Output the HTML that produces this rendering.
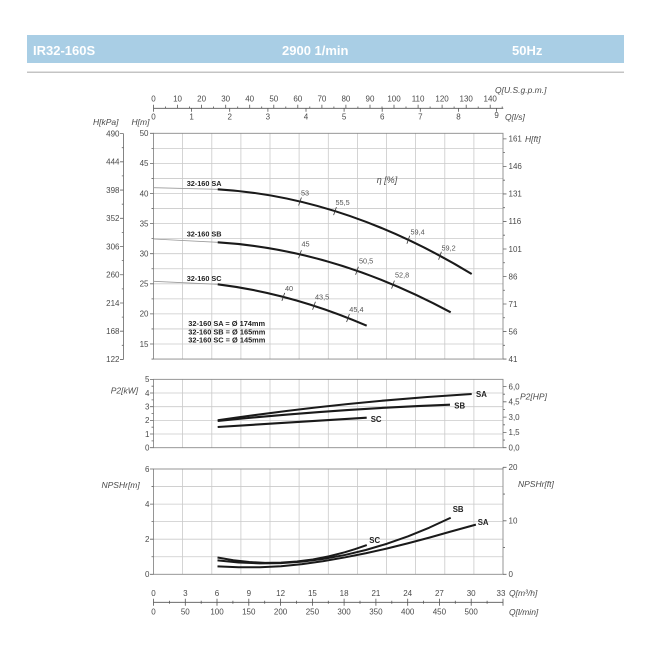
<!DOCTYPE html>
<html><head><meta charset="utf-8"><style>
html,body{margin:0;padding:0;background:#fff;}
svg{display:block;}
text{font-family:"Liberation Sans",Arial,sans-serif;}
.t{font-size:8px;fill:#4a4a4a;}
.i{font-size:8.5px;fill:#4a4a4a;font-style:italic;}
.e{font-size:7.3px;fill:#555;}
.b{font-size:7.3px;fill:#222;font-weight:bold;}
.h{font-size:13px;fill:#fff;font-weight:bold;}
</style></head><body>
<svg width="650" height="650" viewBox="0 0 650 650" xmlns="http://www.w3.org/2000/svg">
<rect x="27" y="35" width="597" height="28" fill="#a9cee5"/>
<text class="h" x="33" y="55">IR32-160S</text>
<text class="h" x="282" y="55">2900 1/min</text>
<text class="h" x="512" y="55">50Hz</text>
<line x1="27" y1="72.3" x2="624" y2="72.3" stroke="#c4c4c4" stroke-width="1.5"/>

<!-- Top axis -->
<text class="i" x="495" y="93">Q[U.S.g.p.m.]</text>
<line x1="153.5" y1="108.3" x2="503.3" y2="108.3" stroke="#555" stroke-width="0.8"/>
<g stroke="#555" stroke-width="0.8">
<path d="M153.5 104.8V108.3M177.55 104.8V108.3M201.6 104.8V108.3M225.7 104.8V108.3M249.7 104.8V108.3M273.8 104.8V108.3M297.8 104.8V108.3M321.9 104.8V108.3M345.9 104.8V108.3M370 104.8V108.3M394 104.8V108.3M418.1 104.8V108.3M442.1 104.8V108.3M466.2 104.8V108.3M490.2 104.8V108.3"/>
<path d="M165.5 106.5V108.3M189.6 106.5V108.3M213.6 106.5V108.3M237.7 106.5V108.3M261.7 106.5V108.3M285.8 106.5V108.3M309.8 106.5V108.3M333.9 106.5V108.3M357.9 106.5V108.3M382 106.5V108.3M406 106.5V108.3M430.1 106.5V108.3M454.1 106.5V108.3M478.2 106.5V108.3M502.2 106.5V108.3"/>
<path d="M153.5 108.3V111.8M191.6 108.3V111.8M229.7 108.3V111.8M267.9 108.3V111.8M306 108.3V111.8M344.1 108.3V111.8M382.2 108.3V111.8M420.3 108.3V111.8M458.5 108.3V111.8M496.6 108.3V111.8"/>
</g>
<g class="t" text-anchor="middle">
<text x="153.5" y="101.5">0</text><text x="177.55" y="101.5">10</text><text x="201.6" y="101.5">20</text><text x="225.7" y="101.5">30</text><text x="249.7" y="101.5">40</text><text x="273.8" y="101.5">50</text><text x="297.8" y="101.5">60</text><text x="321.9" y="101.5">70</text><text x="345.9" y="101.5">80</text><text x="370" y="101.5">90</text><text x="394" y="101.5">100</text><text x="418.1" y="101.5">110</text><text x="442.1" y="101.5">120</text><text x="466.2" y="101.5">130</text><text x="490.2" y="101.5">140</text>
<text x="153.5" y="119.5">0</text><text x="191.6" y="119.5">1</text><text x="229.7" y="119.5">2</text><text x="267.9" y="119.5">3</text><text x="306" y="119.5">4</text><text x="344.1" y="119.5">5</text><text x="382.2" y="119.5">6</text><text x="420.3" y="119.5">7</text><text x="458.5" y="119.5">8</text><text x="496.6" y="118">9</text>
</g>
<text class="i" x="505" y="120">Q[l/s]</text>

<!-- Main chart -->
<text class="i" x="93" y="125">H[kPa]</text>
<text class="i" x="131.5" y="125">H[m]</text>
<g stroke="#cacaca" stroke-width="0.8" fill="none">
<path d="M182.6 133.3V359.05M211.8 133.3V359.05M240.9 133.3V359.05M270 133.3V359.05M299.1 133.3V359.05M328.3 133.3V359.05M357.4 133.3V359.05M386.5 133.3V359.05M415.6 133.3V359.05M444.8 133.3V359.05M473.9 133.3V359.05"/>
<path d="M153.5 148.35H503M153.5 163.4H503M153.5 178.45H503M153.5 193.5H503M153.5 208.55H503M153.5 223.6H503M153.5 238.65H503M153.5 253.7H503M153.5 268.75H503M153.5 283.8H503M153.5 298.85H503M153.5 313.9H503M153.5 328.95H503M153.5 344H503"/>
</g>
<rect x="153.5" y="133.3" width="349.5" height="225.75" fill="none" stroke="#8a8a8a" stroke-width="0.9"/>
<g stroke="#666" stroke-width="0.8">
<path d="M123.5 133.6V359.43"/>
<path d="M120 133.6H123.5M120 161.83H123.5M120 190.06H123.5M120 218.29H123.5M120 246.52H123.5M120 274.75H123.5M120 302.98H123.5M120 331.21H123.5M120 359.43H123.5"/>
<path d="M121.8 147.7H123.5M121.8 175.9H123.5M121.8 204.2H123.5M121.8 232.4H123.5M121.8 260.6H123.5M121.8 288.9H123.5M121.8 317.1H123.5M121.8 345.3H123.5"/>
<path d="M150 133.3H153.5M150 163.4H153.5M150 193.5H153.5M150 223.6H153.5M150 253.7H153.5M150 283.8H153.5M150 313.9H153.5M150 344H153.5M151.5 148.35H153.5M151.5 178.45H153.5M151.5 208.55H153.5M151.5 238.65H153.5M151.5 268.75H153.5M151.5 298.85H153.5M151.5 328.95H153.5M151.5 359.05H153.5"/>
<path d="M503 138.88H506.5M503 166.4H506.5M503 193.93H506.5M503 221.45H506.5M503 248.97H506.5M503 276.5H506.5M503 304.02H506.5M503 331.54H506.5M503 359.07H506.5"/>
<path d="M503 152.64H505M503 180.17H505M503 207.69H505M503 235.21H505M503 262.74H505M503 290.26H505M503 317.78H505M503 345.31H505"/>
</g>
<g class="t" text-anchor="end">
<text x="119.5" y="136.4">490</text><text x="119.5" y="164.6">444</text><text x="119.5" y="192.9">398</text><text x="119.5" y="221.1">352</text><text x="119.5" y="249.3">306</text><text x="119.5" y="277.6">260</text><text x="119.5" y="305.8">214</text><text x="119.5" y="334">168</text><text x="119.5" y="362.2">122</text>
<text x="148.5" y="136.1">50</text><text x="148.5" y="166.2">45</text><text x="148.5" y="196.3">40</text><text x="148.5" y="226.4">35</text><text x="148.5" y="256.5">30</text><text x="148.5" y="286.6">25</text><text x="148.5" y="316.7">20</text><text x="148.5" y="346.8">15</text>
</g>
<g class="t">
<text x="508.5" y="141.7">161</text><text x="508.5" y="169.2">146</text><text x="508.5" y="196.7">131</text><text x="508.5" y="224.2">116</text><text x="508.5" y="251.8">101</text><text x="508.5" y="279.3">86</text><text x="508.5" y="306.8">71</text><text x="508.5" y="334.3">56</text><text x="508.5" y="361.9">41</text>
</g>
<text class="i" x="525" y="142">H[ft]</text>

<!-- gray extensions -->
<g stroke="#9a9a9a" stroke-width="0.8" fill="none">
<path d="M153.5 187.7L217.7 189.3"/>
<path d="M153.5 239L217.7 242.3"/>
<path d="M153.5 281.3L217.7 284.3"/>
</g>
<!-- H curves -->
<g stroke="#1a1a1a" stroke-width="2.1" fill="none" stroke-linecap="butt">
<path d="M217.7 189.3Q344.7 196.84 471.7 274"/>
<path d="M217.7 242.3Q334.2 249.5 450.7 312.3"/>
<path d="M217.7 284.3Q292.2 293.5 366.7 325.7"/>
</g>
<!-- efficiency ticks -->
<g stroke="#333" stroke-width="0.8">
<path d="M298.6 205.5L301.4 197.5M333.6 215.1L336.4 207.1M406.9 243.8L409.7 235.8M438.6 259.8L441.4 251.8"/>
<path d="M298.6 258.3L301.4 250.3M355.6 274.8L358.4 266.8M391.6 288.6L394.4 280.6"/>
<path d="M281.9 300.9L284.7 292.9M312.6 309.8L315.4 301.8M346.6 322L349.4 314"/>
</g>
<g class="e">
<text x="301" y="195.5">53</text><text x="335.5" y="205">55,5</text><text x="410.5" y="234.7">59,4</text><text x="441.5" y="250.4">59,2</text>
<text x="301.5" y="246.7">45</text><text x="359" y="263.4">50,5</text><text x="395" y="277.7">52,8</text>
<text x="285" y="291">40</text><text x="315" y="299.4">43,5</text><text x="349.3" y="312">45,4</text>
</g>
<text class="i" x="376.7" y="183" style="font-size:9px">η [%]</text>
<g class="b">
<text x="186.7" y="186">32-160 SA</text>
<text x="186.7" y="236.7">32-160 SB</text>
<text x="186.7" y="281">32-160 SC</text>
</g>
<g class="b" style="font-size:7.4px">
<text x="188.3" y="326">32-160 SA = Ø 174mm</text>
<text x="188.3" y="334.4">32-160 SB = Ø 165mm</text>
<text x="188.3" y="342.7">32-160 SC = Ø 145mm</text>
</g>

<!-- P2 chart -->
<g stroke="#cacaca" stroke-width="0.8" fill="none">
<path d="M182.6 379.35V447.7M211.8 379.35V447.7M240.9 379.35V447.7M270 379.35V447.7M299.1 379.35V447.7M328.3 379.35V447.7M357.4 379.35V447.7M386.5 379.35V447.7M415.6 379.35V447.7M444.8 379.35V447.7M473.9 379.35V447.7"/>
<path d="M153.5 393H503M153.5 406.7H503M153.5 420.4H503M153.5 434H503"/>
</g>
<rect x="153.5" y="379.35" width="349.5" height="68.35" fill="none" stroke="#8a8a8a" stroke-width="0.9"/>
<g stroke="#666" stroke-width="0.8">
<path d="M150 379.35H153.5M150 393H153.5M150 406.7H153.5M150 420.4H153.5M150 434H153.5M150 447.7H153.5"/>
<path d="M151.5 386.2H153.5M151.5 399.9H153.5M151.5 413.5H153.5M151.5 427.2H153.5M151.5 440.9H153.5"/>
<path d="M503 386.5H506.5M503 401.8H506.5M503 417.1H506.5M503 432.4H506.5M503 447.7H506.5"/>
<path d="M503 394.2H505M503 409.5H505M503 424.8H505M503 440.05H505"/>
</g>
<g class="t" text-anchor="end">
<text x="149.5" y="382.2">5</text><text x="149.5" y="395.8">4</text><text x="149.5" y="409.5">3</text><text x="149.5" y="423.2">2</text><text x="149.5" y="436.8">1</text><text x="149.5" y="450.5">0</text>
</g>
<g class="t">
<text x="508.5" y="389.3">6,0</text><text x="508.5" y="404.6">4,5</text><text x="508.5" y="419.9">3,0</text><text x="508.5" y="435.2">1,5</text><text x="508.5" y="450.5">0,0</text>
</g>
<text class="i" x="110.7" y="393.5">P2[kW]</text>
<text class="i" x="520" y="399.5">P2[HP]</text>
<g stroke="#1a1a1a" stroke-width="2.1" fill="none">
<path d="M217.7 420.3Q344.7 401.6 471.7 394"/>
<path d="M217.7 421Q333.9 409.1 450 404.7"/>
<path d="M217.7 427L366.7 417.7"/>
</g>
<g class="b" style="font-size:7.8px">
<text x="476" y="397">SA</text>
<text x="454.3" y="408.5">SB</text>
<text x="370.7" y="422">SC</text>
</g>

<!-- NPSH chart -->
<g stroke="#cacaca" stroke-width="0.8" fill="none">
<path d="M182.6 469V574.3M211.8 469V574.3M240.9 469V574.3M270 469V574.3M299.1 469V574.3M328.3 469V574.3M357.4 469V574.3M386.5 469V574.3M415.6 469V574.3M444.8 469V574.3M473.9 469V574.3"/>
<path d="M153.5 486.55H503M153.5 504.1H503M153.5 521.65H503M153.5 539.2H503M153.5 556.75H503"/>
</g>
<rect x="153.5" y="469" width="349.5" height="105.3" fill="none" stroke="#8a8a8a" stroke-width="0.9"/>
<g stroke="#666" stroke-width="0.8">
<path d="M503 467.3V469"/>
<path d="M150 469H153.5M150 504.1H153.5M150 539.2H153.5M150 574.3H153.5M151.5 486.55H153.5M151.5 521.65H153.5M151.5 556.75H153.5"/>
<path d="M503 467.32H506.5M503 520.81H506.5M503 574.3H506.5M503 494.07H505M503 547.56H505"/>
</g>
<g class="t" text-anchor="end">
<text x="149.5" y="471.8">6</text><text x="149.5" y="506.9">4</text><text x="149.5" y="542">2</text><text x="149.5" y="577.1">0</text>
</g>
<g class="t">
<text x="508.5" y="470.1">20</text><text x="508.5" y="523.6">10</text><text x="508.5" y="577.1">0</text>
</g>
<text class="i" x="101.5" y="488">NPSHr[m]</text>
<text class="i" x="518" y="487">NPSHr[ft]</text>
<g stroke="#1a1a1a" stroke-width="2" fill="none" stroke-linejoin="round">
<polyline points="217.5,557.5 233.4,560.25 249.3,562.03 265.1,562.84 281,562.68 296.9,561.54 312.8,559.44 328.7,556.36 344.6,552.32 355.2,549.08 366.8,545.02"/>
<polyline points="217.5,560.41 238.7,562.49 259.9,563.38 281,563.08 302.2,561.6 323.4,558.92 344.6,555.05 365.8,550 387,543.74 408.1,536.3 429.3,527.65 450.7,517.74"/>
<polyline points="217.5,566.4 238.7,567.28 259.9,567.28 281,566.23 302.2,564.12 323.4,561.14 344.6,557.45 365.8,553.24 387,548.5 408.1,543.24 429.3,537.62 450.5,531.65 475.9,524.63"/>
</g>
<g class="b" style="font-size:7.8px">
<text x="452.7" y="512">SB</text>
<text x="477.7" y="525">SA</text>
<text x="369.3" y="543">SC</text>
</g>

<!-- Bottom axis -->
<line x1="153.5" y1="602.3" x2="503" y2="602.3" stroke="#555" stroke-width="0.8"/>
<g stroke="#555" stroke-width="0.8">
<path d="M153.5 598.8V605.8M185.3 598.8V605.8M217 598.8V605.8M248.8 598.8V605.8M280.6 598.8V605.8M312.4 598.8V605.8M344.1 598.8V605.8M375.9 598.8V605.8M407.7 598.8V605.8M439.4 598.8V605.8M471.2 598.8V605.8M503 598.8V605.8"/>
<path d="M169.4 600.8V603.8M201.2 600.8V603.8M232.9 600.8V603.8M264.7 600.8V603.8M296.5 600.8V603.8M328.3 600.8V603.8M360 600.8V603.8M391.8 600.8V603.8M423.6 600.8V603.8M455.3 600.8V603.8M487.1 600.8V603.8"/>
</g>
<g class="t" text-anchor="middle">
<text x="153.5" y="596">0</text><text x="185.3" y="596">3</text><text x="217" y="596">6</text><text x="248.8" y="596">9</text><text x="280.6" y="596">12</text><text x="312.4" y="596">15</text><text x="344.1" y="596">18</text><text x="375.9" y="596">21</text><text x="407.7" y="596">24</text><text x="439.4" y="596">27</text><text x="471.2" y="596">30</text><text x="501" y="596">33</text>
<text x="153.5" y="614.5">0</text><text x="185.3" y="614.5">50</text><text x="217" y="614.5">100</text><text x="248.8" y="614.5">150</text><text x="280.6" y="614.5">200</text><text x="312.4" y="614.5">250</text><text x="344.1" y="614.5">300</text><text x="375.9" y="614.5">350</text><text x="407.7" y="614.5">400</text><text x="439.4" y="614.5">450</text><text x="471.2" y="614.5">500</text>
</g>
<text class="i" x="509" y="596">Q[m³/h]</text>
<text class="i" x="509" y="615">Q[l/min]</text>
</svg>
</body></html>
